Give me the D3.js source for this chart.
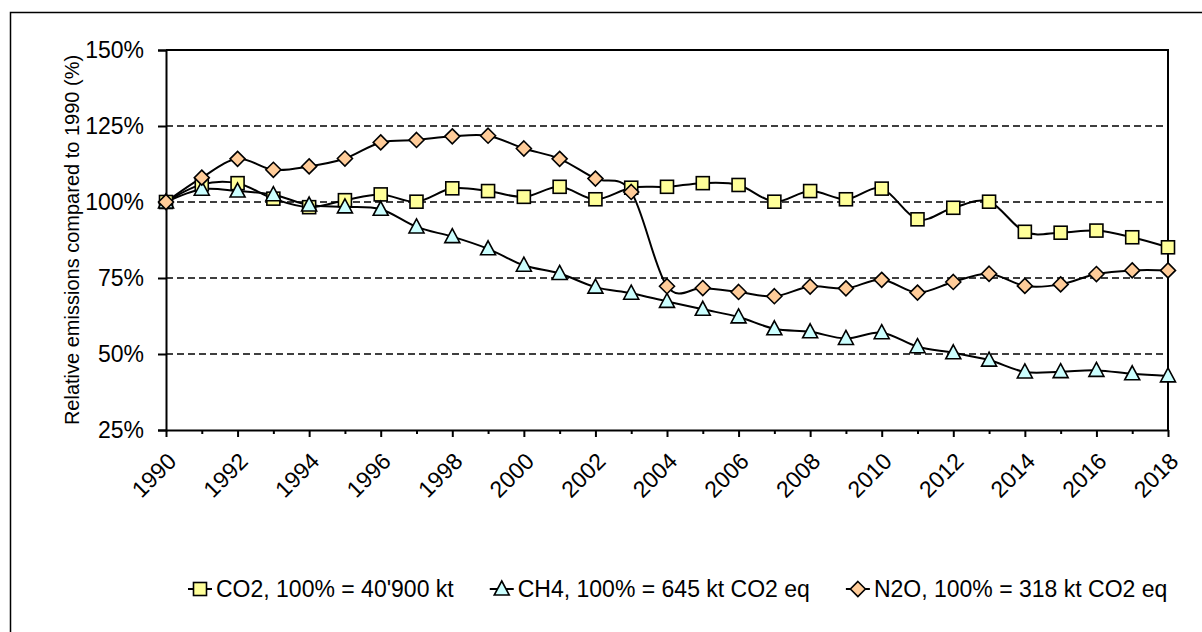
<!DOCTYPE html>
<html><head><meta charset="utf-8">
<script src="https://cdn.jsdelivr.net/npm/d3@7"></script>
<style>html,body{margin:0;padding:0;background:#fff;}svg{display:block;font-family:"Liberation Sans",Arial,sans-serif;}</style>
</head><body>
<svg id="chart" width="1202" height="632"></svg>
<script>
const years = d3.range(1990, 2019);
const co2 = [100,105.8,106.2,101.1,98.3,100.6,102.5,100.1,104.5,103.6,101.7,105.0,100.9,104.7,105.0,106.2,105.6,100.1,103.6,100.9,104.4,94.3,98.1,100.1,90.2,89.9,90.6,88.4,85.1];
const ch4 = [100,104.2,103.6,102.4,99.0,98.4,97.6,91.8,88.6,84.6,79.2,76.5,72.0,70.0,67.3,64.7,62.2,58.3,57.3,55.1,57.0,52.4,50.4,48.0,44.1,44.2,44.6,43.5,42.8];
const n2o = [100,108.0,114.2,110.6,111.7,114.3,119.6,120.4,121.6,121.8,117.6,114.2,107.7,103.3,72.3,71.7,70.4,69.0,72.2,71.6,74.4,70.2,73.7,76.4,72.4,72.9,76.3,77.5,77.5];
const yTicks = [25,50,75,100,125,150];
const gridValues = [50,75,100,125];
const xTickYears = d3.range(1990, 2019, 2);
const seriesNames = ["CO2, 100% = 40'900 kt","CH4, 100% = 645 kt CO2 eq","N2O, 100% = 318 kt CO2 eq"];
const yTitle = "Relative emissions compared to 1990 (%)";

const svg = d3.select("#chart");
const L = 166, R = 1168, T = 50, B = 430;
const x = d3.scaleLinear().domain([1990, 2018]).range([L, R]);
const y = d3.scaleLinear().domain([25, 150]).range([B, T]);
const FS = 23;

// outer frame (left/top)
svg.append("path").attr("d","M10.5,640 V12.5 H1210").attr("fill","none").attr("stroke","#000").attr("stroke-width",1.5);

// gridlines
svg.append("g").selectAll("line").data(gridValues).join("line")
  .attr("x1",L).attr("x2",R).attr("y1",d=>y(d)).attr("y2",d=>y(d))
  .attr("stroke","#000").attr("stroke-width",1.6).attr("stroke-dasharray","7,4");

// plot border top & right
svg.append("path").attr("d",`M${L},${T} H${R} V${B}`).attr("fill","none").attr("stroke","#000").attr("stroke-width",2);

// y axis
const yAxis = d3.axisLeft(y).tickValues(yTicks).tickFormat(d=>d+"%").tickSize(8).tickPadding(14);
const gy = svg.append("g").attr("transform",`translate(${L},0)`).call(yAxis);
gy.select(".domain").attr("stroke","#000").attr("stroke-width",2);
gy.selectAll(".tick line").attr("stroke","#000").attr("stroke-width",2);
gy.selectAll(".tick text").attr("font-size",FS).attr("font-family","Liberation Sans, Arial, sans-serif").attr("fill","#000");

// x axis
const xAxis = d3.axisBottom(x).tickValues(years).tickFormat(()=>"").tickSize(0);
const gx = svg.append("g").attr("transform",`translate(0,${B})`).call(xAxis);
gx.select(".domain").attr("stroke","#000").attr("stroke-width",2);
gx.selectAll(".tick line").attr("y2",d=>d%2===0?7:4).attr("stroke","#000").attr("stroke-width",2);
svg.append("g").selectAll("text").data(xTickYears).join("text")
  .attr("transform",d=>`translate(${x(d)+6},457) rotate(-45)`)
  .attr("text-anchor","end").attr("dy","0.35em")
  .attr("font-size",FS).text(d=>d);

// y title
svg.append("text").attr("transform","translate(79,240) rotate(-90)").attr("text-anchor","middle")
  .attr("font-size",20).text(yTitle);

// lines
const line = d3.line().x((d,i)=>x(years[i])).y(d=>y(d)).curve(d3.curveCardinal.tension(0));
const data = [co2, ch4, n2o];
const fills = ["#FFFF99","#CCFFFF","#FFCC99"];
data.forEach(s=>{
  svg.append("path").attr("d",line(s)).attr("fill","none").attr("stroke","#000").attr("stroke-width",2);
});
function marker(g, k, cx, cy){
  if(k===0){
    g.append("rect").attr("x",cx-6.5).attr("y",cy-6.5).attr("width",13).attr("height",13)
     .attr("fill",fills[0]).attr("stroke","#000").attr("stroke-width",1.6);
  } else if(k===1){
    g.append("path").attr("d",`M${cx},${cy-8} L${cx+7.5},${cy+6} L${cx-7.5},${cy+6} Z`)
     .attr("fill",fills[1]).attr("stroke","#000").attr("stroke-width",1.6);
  } else {
    g.append("path").attr("d",`M${cx},${cy-7.5} L${cx+7.5},${cy} L${cx},${cy+7.5} L${cx-7.5},${cy} Z`)
     .attr("fill",fills[2]).attr("stroke","#000").attr("stroke-width",1.6);
  }
}
data.forEach((s,k)=>{
  const g = svg.append("g");
  s.forEach((v,i)=>marker(g,k,x(years[i]),y(v)));
});

// legend
const lg = svg.append("g");
let lx = 188; const ly = 589;
seriesNames.forEach((name,k)=>{
  lg.append("line").attr("x1",lx).attr("x2",lx+24).attr("y1",ly).attr("y2",ly).attr("stroke","#000").attr("stroke-width",2);
  marker(lg,k,lx+12,ly);
  const t = lg.append("text").attr("x",lx+28).attr("y",ly).attr("dy","0.35em").attr("font-size",FS).text(name);
  lx += 28 + t.node().getComputedTextLength() + 36;
});
</script>
</body></html>
